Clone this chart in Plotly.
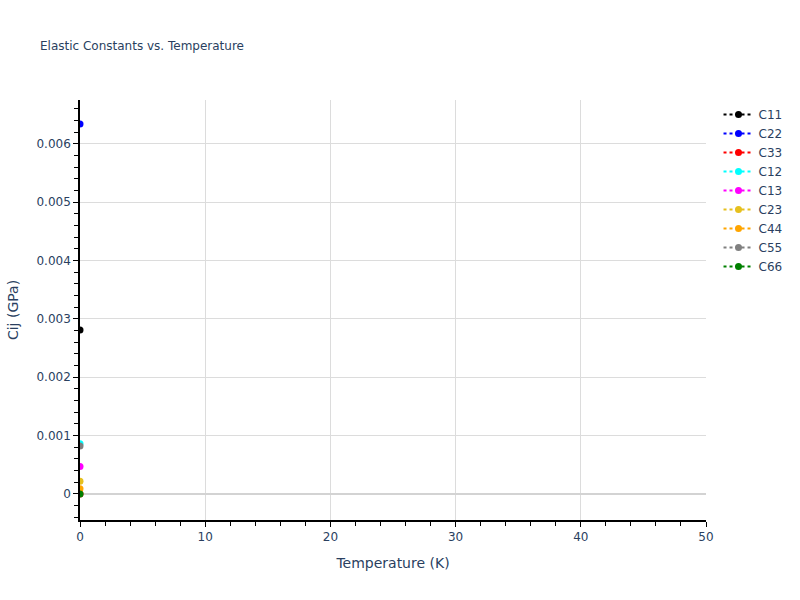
import plotly.graph_objects as go

# one temperature point only (0 K), values in GPa
temperature = [0]
names = ["C11", "C22", "C33", "C12", "C13", "C23", "C44", "C55", "C66"]
colors = ["black", "blue", "red", "cyan", "magenta", "#e6c01e", "orange", "gray", "green"]
C11 = [0.00281]
C22 = [0.00634]
C33 = [0.0]
C12 = [0.00086]
C13 = [0.00047]
C23 = [0.00022]
C44 = [0.00009]
C55 = [0.00082]
C66 = [0.0]

series = [C11, C22, C33, C12, C13, C23, C44, C55, C66]

fig = go.Figure()

for name, vals, col in zip(names, series, colors):
    fig.add_trace(go.Scatter(
        x=temperature,
        y=vals,
        mode='lines+markers',
        name=name,
        line=dict(color=col, dash='dot'),
        marker=dict(color=col, size=7),
    ))

axis_style = dict(
    showline=True,
    linecolor='black',
    linewidth=1.5,
    ticks='outside',
    tickcolor='black',
    ticklen=5,
    gridcolor='#dcdcdc',
    zerolinecolor='#d3d3d3',
    zerolinewidth=2,
    minor=dict(ticks='outside', ticklen=4, tickcolor='black', nticks=5),
)

fig.update_layout(
    template='plotly_white',
    width=800,
    height=600,
    font=dict(family='Verdana, DejaVu Sans', color='#2a3f5f'),
    title=dict(text='Elastic Constants vs. Temperature', font=dict(size=12)),
    xaxis=dict(title='Temperature (K)', range=[0, 50], dtick=10, **axis_style),
    yaxis=dict(title='Cij (GPa)', range=[-0.000446, 0.00675], dtick=0.001, **axis_style),
)

# no page margin so the figure sits at the window corner
fig.write_html("out.html", config={'displayModeBar': False},
               post_script="document.body.style.margin='0';")
